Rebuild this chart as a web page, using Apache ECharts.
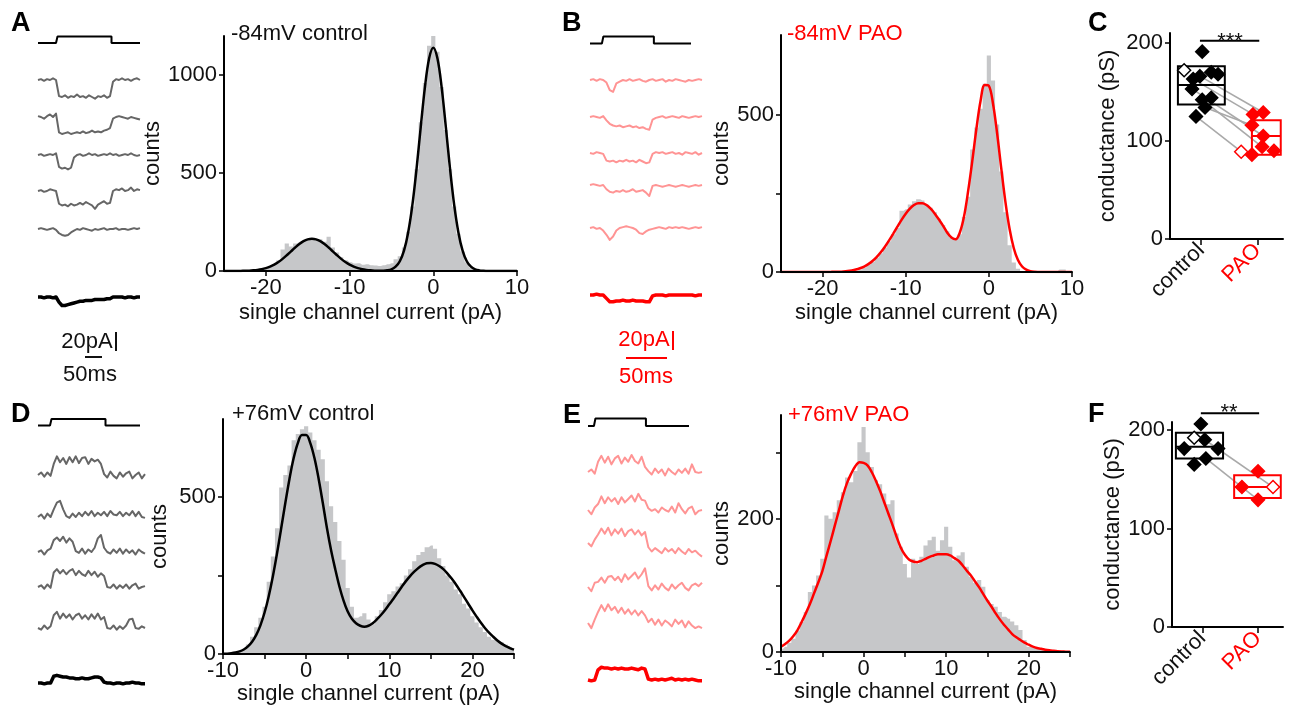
<!DOCTYPE html>
<html><head><meta charset="utf-8">
<script src="https://cdn.jsdelivr.net/npm/echarts@6/dist/echarts.min.js"></script>
<style>html,body{margin:0;padding:0;background:#fff}#c{width:1291px;height:708px}</style>
</head><body><div id="c"></div>
<script>
// ---------------- DATA ----------------
// Panel A: -84 mV control, single-channel sweeps (pA, one sample per ~3 ms)
const cmdA   = [0,0,0,0,0,0,0,1,1,1,1,1,1,1,1,1,1,1,1,1,1,1,1,1,1,0,0,0,0,0,0,0,0,0,0];
const traceA1 = [0,1,-1,1,0,2,0,-19,-20,-18,-21,-19,-20,-17,-20,-19,-21,-18,-20,-22,-19,-20,-18,-21,-19,-2,1,0,2,0,1,-1,1,2,0];
const traceA2 = [1,0,-2,1,3,0,4,-18,-20,-19,-18,-20,-19,-18,-19,-17,-19,-18,-16,-18,-17,-18,-16,-15,-13,-2,0,1,0,-1,-2,0,-1,-2,-3];
const traceA3 = [0,1,-1,0,1,0,2,-14,-16,-15,-17,-15,-3,0,1,-1,0,2,0,1,-1,0,1,0,2,0,1,-1,0,1,0,2,0,-1,0];
const traceA4 = [0,1,-1,0,2,1,0,-15,-17,-16,-18,-15,-17,-16,-14,-16,-13,-15,-17,-21,-16,-14,-12,-15,-14,0,2,1,3,0,1,4,0,2,1];
const traceA5 = [0,1,0,-1,0,1,-1,-5,-7,-8,-7,-4,-2,0,-1,1,0,-1,-2,0,-1,0,1,-1,0,0,1,-1,0,0,-1,0,1,0,1];
const avgA    = [0,0,-1,0,0,-1,0,-6,-10,-10,-9,-8,-7,-6,-5,-5,-4,-4,-4,-3,-3,-3,-3,-2,-2,0,0,0,0,-1,0,0,-1,0,0];

// Panel B: -84 mV PAO
const cmdB   = [0,0,0,0,0,1,1,1,1,1,1,1,1,1,1,1,1,1,1,1,1,1,0,0,0,0,0,0,0,0,0,0,0,0,0];
const traceB1 = [0,1,-1,1,0,-3,-12,-14,-4,-2,0,-1,1,-1,0,1,-1,-2,0,1,-1,0,1,-2,0,-1,1,0,-1,-2,0,-1,0,1,0];
const traceB2 = [0,1,0,-1,1,-4,-8,-10,-11,-10,-12,-11,-10,-12,-11,-13,-12,-14,-15,-3,-1,0,1,-1,0,1,0,-1,1,0,-1,0,1,0,1];
const traceB3 = [0,-1,1,0,-1,-9,-10,-9,-11,-9,-10,-8,-10,-9,-11,-8,-10,-12,-11,-1,1,0,1,-1,0,1,-1,0,-2,1,0,-1,1,-2,0];
const traceB4 = [0,1,0,-1,0,-5,-8,-9,-7,-8,-6,-8,-7,-5,-8,-7,-6,-9,-13,-1,0,-1,-2,-1,0,-1,-2,-1,0,-1,-2,-1,0,-1,0];
const traceB5 = [0,1,-1,0,-3,-8,-14,-10,-3,0,1,2,1,0,-2,-6,-7,-4,-2,-1,0,1,0,-1,1,0,1,0,1,0,-1,0,1,0,1];
const avgB    = [0,0,1,0,0,-4,-8,-8,-7,-7,-6,-7,-7,-6,-7,-7,-7,-8,-8,-1,0,0,0,-1,0,0,0,0,0,0,0,0,-1,0,0];

// Panel D: +76 mV control
const cmdD   = [0,0,0,0,0,1,1,1,1,1,1,1,1,1,1,1,1,1,1,1,1,1,1,0,0,0,0,0,0,0,0,0,0,0,0];
const traceD1 = [0,3,-2,3,-1,13,22,15,20,13,21,15,22,14,20,21,13,19,16,18,13,1,-3,4,-1,-4,3,-2,2,4,-4,0,3,-4,1];
const traceD2 = [0,3,-2,4,0,9,17,19,9,1,-1,4,0,5,1,6,2,7,1,5,2,6,1,7,3,2,6,1,5,2,7,1,6,0,-1];
const traceD3 = [0,2,-3,2,4,14,17,13,18,11,16,12,1,-1,4,-2,3,0,5,16,20,5,0,-2,3,-1,4,-2,3,-1,2,-3,3,0,-2];
const traceD4 = [0,2,-2,3,-1,17,21,16,20,15,19,21,14,19,15,13,19,14,18,12,16,13,0,-1,3,-2,2,-1,3,-2,2,4,-2,0,1];
const traceD5 = [0,-2,3,-1,2,15,19,11,17,12,16,10,15,17,11,15,10,16,11,17,10,13,0,-1,3,-2,2,-1,3,10,11,0,-1,2,0];
const avgD    = [0,0,-1,0,0,8,9,8,7,7,6,6,5,5,6,5,5,6,7,7,6,1,0,0,-1,0,0,-1,0,0,1,0,0,-1,-1];

// Panel E: +76 mV PAO
const cmdE   = [0,0,0,1,1,1,1,1,1,1,1,1,1,1,1,1,1,1,1,1,0,0,0,0,0,0,0,0,0,0,0,0,0,0,0];
const traceE1 = [0,3,-2,12,19,11,18,9,16,19,10,17,12,20,13,10,18,6,1,-3,4,-1,3,-4,4,0,-3,3,-1,4,-2,9,0,-1,0];
const traceE2 = [0,-5,3,7,16,8,15,10,14,7,15,9,13,17,10,19,12,11,2,-1,1,-3,3,0,-2,4,-3,8,1,-4,2,4,-5,-1,0];
const traceE3 = [0,-4,4,10,17,11,18,9,16,11,17,8,14,16,10,15,9,13,-5,-10,-6,-9,-12,-6,-10,-7,-12,-6,-10,-13,-7,-11,-9,-13,-16];
const traceE4 = [0,-5,5,6,11,5,12,13,8,12,6,15,9,13,17,10,15,22,1,-4,2,-3,4,-1,-4,3,-2,2,5,-1,-4,2,4,1,5];
const traceE5 = [0,-6,4,13,21,14,22,15,19,12,18,11,16,10,15,9,14,9,1,5,-2,4,-3,3,0,-4,4,-1,3,-5,2,-3,-6,-4,-6];
const avgE    = [0,-1,0,12,15,14,14,13,14,13,14,13,13,14,13,12,14,13,1,0,1,0,1,0,1,2,0,1,0,1,0,1,0,-1,-1];

// Histograms: 0.5 pA bins
const binWidth = 0.5;
const binStartA = -25, binStartB = -25, binStartD = -10, binStartE = -10;
const histA = [0,0,0,0,1,1,2,4,6,9, 14,22,35,55,110,140,125,140,150,158, 165,168,160,162,150,175,120,95,70,55,
  45,38,40,32,35,30,28,25,30,35, 40,60,75,120,200,330,520,760,960,1150, 1210,1120,940,720,520,330,190,100,45,18,
  6,2,1,0,0,0,0,0,0,0, 0];
const fitA = [0,0.05,0.1,0.25,0.5,1,1.8,3.3,5.6,9.2, 14.7,22.3,32.7,45.9,61.9,80.4,100.2,119.8,137.8,152.3,
  161.7,165,161.7,152.3,137.8,119.8,100.2,80.4,61.9,45.9, 32.7,22.3,14.7,9.2,5.6,3.3,1.8,1,1.5,3.4,
  8.7,21.9,50,104,197,336,522,735,938,1085, 1140,1085,938,735,522,336,197,104,50,21.9, 8.6,3.1,1,0,0,0,0,0,0,0, 0];
const histB = [0,0,0,0,0,0,0,0,0,0, 0,0,0,0,0,0,0,2,4,8, 14,22,32,45,60,78,98,120,140,195,
  200,215,225,232,228,215,205,190,170,150, 130,110,108,120,175,240,390,460,520,600,
  690,610,470,320,190,85,30,10,3,1, 0,0,0,0,0,0,2,8,8,0, 0];
const fitB = [0,0,0,0,0,0,0,0,0,0, 0,0.2,0.36,0.6,1.1,1.9,3.1,5,7.8,11.9, 17.5,25.1,35,47.6,62.8,80.7,100.8,122.3,144.5,166.1,
  185.6,201.7,213.2,219.2,219.2,213.2,201.7,185.9,167,147.2, 125,110,104,125,175,256.3,352.3,456,544.9,595.6,
  592.8,536.1,440.4,328.3,221.9,136.2,75.8,38.1,17.5,7.3, 2.7,0.9,0.3,0,0,0,0,0,0,0, 0];
const histD = [1,2,3,5,8,15,30,55,85,115, 150,230,310,400,530,570,600,680,700,715, 725,705,680,650,620,550,470,420,360,300,
  210,150,115,120,130,110,95,120,140,165, 190,200,215,225,250,270,295,315,325,340, 345,335,305,280,250,230,205,190,160,145,
  120,100,85,70,55,45,40,38,30,22, 15];
const fitD = [0.6,1.2,2.4,4.6,8.2,14.3,24.1,38.9,60.7,91.2, 132,184,247.4,320.5,400.1,481.3,558.1,623.6,671.4,696.8,
  696.8,671.4,623.6,558.1,481.3,401,330,270,215,170, 135,112,98,90,87,90,98,110,124,140,
  158,176,195,214,232,248,262,274,283,289, 290,287,280,270,256,240,222,202,181,160, 139,119,100,83,68,55,43,33,25,19, 14];
const histE = [5,8,14,20,32,45,60,90,100,115, 140,205,200,210,228,240,262,255,272,315, 338,300,278,258,252,238,222,228,178,158,
  132,112,140,132,143,160,168,173,152,168, 188,158,138,145,150,128,113,104,108,98, 78,72,68,60,53,50,46,40,33,18,
  8,6,6,4,3,2,1,1,0,0, 0];
const fitE = [8,12,17,24,33,45,58,72,88,104, 121,144,166,189,212,235,254,268,279,285, 284,280,270,257,242,225,208,191,173,157,
  146,139,136,135,137,140,143,145,147,147, 147,145,141,137,130,122,115,106,97,87, 77,68,58,49,41,34,27,22,18,14,
  11,8,6,5,3.5,2.5,1.8,1.2,0.8,0.5, 0.3];

// Conductance (pS): x = group position (1 control, 2 PAO, with jitter)
const condC_ctrl     = [[1.02,191],[0.98,166],[1.18,170],[1.30,168],[0.86,163],[0.84,153],[1.02,142],[1.18,144],[1.07,134],[0.91,125]];
const condC_ctrlOpen = [[0.70,172]];
const condC_pao      = [[1.92,127],[2.10,129],[1.90,116],[2.10,105],[2.08,94],[1.90,86],[2.29,90]];
const condC_paoOpen  = [[1.71,89]];
const pairsC = [[[0.98,166],[2.10,129]],[[0.86,163],[1.92,127]],[[0.84,153],[2.10,105]],[[1.02,142],[2.08,94]],[[1.07,134],[1.90,116]],[[0.91,125],[1.71,89]]];
const boxC = {ctrl:[137,157,176], pao:[86,105,121]};   // [q1, median, q3]
const sigC = {text:'***', level:202};

const condF_ctrl     = [[0.97,206],[1.04,190],[0.67,181],[1.28,181],[1.06,171],[0.85,165]];
const condF_ctrlOpen = [[0.85,192]];
const condF_pao      = [[2.0,158],[1.71,142],[2.0,129]];
const condF_paoOpen  = [[2.27,142]];
const pairsF = [[[1.04,190],[2.27,142]],[[1.06,171],[2.0,129]]];
const boxF = {ctrl:[171,183,197], pao:[131,142,154]};
const sigF = {text:'**', level:217};

const groupLabels = ['control','PAO'];

// ---------------- LAYOUT / STYLE ----------------
const RED = '#ff0000', PINK = '#ff9494', GRAY_TR = '#666666', HIST = '#c6c7c9';
const FONT = '"Liberation Sans", Arial, Helvetica, sans-serif';
const PX_PER_PA = 0.85;

const grids = [], xAxes = [], yAxes = [], series = [];
function addGrid(g, x, y) {
  grids.push(Object.assign({outerBoundsMode:'none', containLabel:false}, g));
  const i = grids.length - 1;
  xAxes.push(Object.assign({gridIndex:i}, x));
  yAxes.push(Object.assign({gridIndex:i}, y));
  return i;
}
const hidden = {show:false, splitLine:{show:false}};
const plain = v => String(v);

function addTrace(left, width, baseline, values, color, lw) {
  const i = addGrid({left, top: baseline - 25*PX_PER_PA, width, height: 50*PX_PER_PA},
    Object.assign({type:'value', min:0, max:values.length-1}, hidden),
    Object.assign({type:'value', min:-25, max:25}, hidden));
  series.push({type:'line', xAxisIndex:i, yAxisIndex:i, data: values.map((v,k)=>[k,v]),
    symbol:'none', lineStyle:{color, width:lw, join:'round'}, silent:true});
}
function addCmd(left, width, top, height, values) {
  const i = addGrid({left, top, width, height},
    Object.assign({type:'value', min:0, max:values.length-1}, hidden),
    Object.assign({type:'value', min:0, max:1}, hidden));
  series.push({type:'line', xAxisIndex:i, yAxisIndex:i, step:'middle', data: values.map((v,k)=>[k,v]),
    symbol:'none', lineStyle:{color:'#000', width:2}, silent:true, clip:false});
}
function axisBase() {
  return {axisLine:{show:true, onZero:false, lineStyle:{color:'#000', width:2}},
    splitLine:{show:false}, z:10,
    nameTextStyle:{fontSize:22, color:'#111', fontFamily:FONT}};
}
function addHist(g, xr, xticks, xlabels, ymax, yticks, ylabels, hist, fit, start, fitColor, xGap, yGap) {
  const x = Object.assign(axisBase(), {type:'value', min:xr[0], max:xr[1],
    axisTick:{show:true, customValues:xticks, length:5, lineStyle:{color:'#000', width:1.5}},
    axisLabel:{customValues:xlabels, formatter:plain, fontSize:22, color:'#111', margin:6, fontFamily:FONT},
    name:'single channel current (pA)', nameLocation:'middle', nameGap:xGap});
  const y = Object.assign(axisBase(), {type:'value', min:0, max:ymax,
    axisTick:{show:true, customValues:yticks, length:5, lineStyle:{color:'#000', width:1.5}},
    axisLabel:{customValues:ylabels, formatter:plain, fontSize:22, color:'#111', margin:7, fontFamily:FONT},
    name:'counts', nameLocation:'middle', nameGap:yGap});
  const i = addGrid(g, x, y);
  series.push({type:'line', xAxisIndex:i, yAxisIndex:i, step:'middle', symbol:'none', z:1,
    data: hist.map((v,k)=>[start + k*binWidth, v]),
    lineStyle:{width:0, color:HIST}, areaStyle:{color:HIST, opacity:1}, silent:true});
  series.push({type:'line', xAxisIndex:i, yAxisIndex:i, smooth:0.35, symbol:'none', z:3,
    data: fit.map((v,k)=>[start + k*binWidth, v]),
    lineStyle:{width:2.5, color:fitColor}, silent:true});
}
function addCond(g, ymax, yGap, ctrl, ctrlOpen, pao, paoOpen, pairs, box, boxX, sig, sigX) {
  const x = Object.assign(axisBase(), {type:'value', min:0.45, max:2.45,
    axisTick:{show:true, customValues:[1,2], length:6, lineStyle:{color:'#000', width:1.5}},
    axisLabel:{customValues:[1,2], rotate:45, margin:8, fontFamily:FONT,
      formatter: v => v < 1.5 ? '{c|' + groupLabels[0] + '}' : '{p|' + groupLabels[1] + '}',
      rich:{c:{color:'#111', fontSize:22, fontFamily:FONT}, p:{color:RED, fontSize:22, fontFamily:FONT}}}});
  const y = Object.assign(axisBase(), {type:'value', min:0, max:ymax,
    axisTick:{show:true, customValues:[0,100,200], length:5, lineStyle:{color:'#000', width:1.5}},
    axisLabel:{customValues:[0,100,200], formatter:plain, fontSize:22, color:'#111', margin:7, fontFamily:FONT},
    name:'conductance (pS)', nameLocation:'middle', nameGap:yGap});
  const i = addGrid(g, x, y);
  pairs.forEach(p => series.push({type:'line', xAxisIndex:i, yAxisIndex:i, data:p, symbol:'none', z:1,
    lineStyle:{color:'#a9a9a9', width:1.6}, silent:true}));
  const boxItem = (ext, s) => [ext[0], ext[1], s[0], s[1], s[2]];
  [[box.ctrl, boxX[0], '#000'], [box.pao, boxX[1], RED]].forEach(([s, ext, col]) => {
    series.push({type:'custom', xAxisIndex:i, yAxisIndex:i, z:2, silent:true,
      data:[boxItem(ext, s)], encode:{x:[0,1], y:[2,3,4]},
      renderItem:(params, api) => {
        const a = api.coord([api.value(0), api.value(4)]), b = api.coord([api.value(1), api.value(2)]);
        const m = api.coord([api.value(0), api.value(3)]), n = api.coord([api.value(1), api.value(3)]);
        return {type:'group', children:[
          {type:'rect', shape:{x:a[0], y:a[1], width:b[0]-a[0], height:b[1]-a[1]}, style:{fill:'none', stroke:col, lineWidth:2}},
          {type:'line', shape:{x1:m[0], y1:m[1], x2:n[0], y2:n[1]}, style:{stroke:col, lineWidth:2}}]};
      }});
  });
  const pts = (data, fill, stroke) => ({type:'scatter', xAxisIndex:i, yAxisIndex:i, data, symbol:'diamond',
    symbolSize:13, z:4, itemStyle:{color:fill, borderColor:stroke, borderWidth:1.5, opacity:1}, silent:true});
  series.push(pts(ctrl, '#000', '#000'), pts(pao, RED, RED), pts(ctrlOpen, '#fff', '#000'), pts(paoOpen, '#fff', RED));
  series.push({type:'line', xAxisIndex:i, yAxisIndex:i, data:[[sigX[0], sig.level],[sigX[1], sig.level]],
    symbol:'none', clip:false, z:4, lineStyle:{color:'#000', width:2}, silent:true});
}

// ---- traces ----
const trA = [traceA1, traceA2, traceA3, traceA4, traceA5], baseA = [80,117,155,191,229];
trA.forEach((t,k) => addTrace(38, 102, baseA[k], t, GRAY_TR, 2));
addTrace(38, 102, 297, avgA, '#000', 3.5);
addCmd(38, 102, 36.5, 6.5, cmdA);

const trB = [traceB1, traceB2, traceB3, traceB4, traceB5], baseB = [80,117,153,185,228];
trB.forEach((t,k) => addTrace(590, 112, baseB[k], t, PINK, 2));
addTrace(590, 112, 295, avgB, RED, 3.5);
addCmd(590, 101, 36.5, 7, cmdB);

const trD = [traceD1, traceD2, traceD3, traceD4, traceD5], baseD = [475,517,552,587,628];
trD.forEach((t,k) => addTrace(38, 107, baseD[k], t, GRAY_TR, 2));
addTrace(38, 107, 683, avgD, '#000', 3.5);
addCmd(38, 102, 419, 6.5, cmdD);

const trE = [traceE1, traceE2, traceE3, traceE4, traceE5], baseE = [472,510,543,587,623];
trE.forEach((t,k) => addTrace(588, 114, baseE[k], t, PINK, 2));
addTrace(588, 114, 680, avgE, RED, 3.5);
addCmd(588, 101, 418.5, 7.5, cmdE);

// ---- histograms ----
addHist({left:224, top:36, width:293, height:235}, [-25,10], [-20,-10,0,10], [-20,-10,0,10],
  1200, [0,500,1000], [0,500,1000], histA, fitA, binStartA, '#000', 31, 52);
addHist({left:781, top:35, width:291, height:237}, [-25,10], [-20,-10,0,10], [-20,-10,0,10],
  755, [0,250,500], [0,500], histB, fitB, binStartB, RED, 30, 43);
addHist({left:223, top:419, width:291, height:235}, [-10,25], [-10,-5,0,5,10,15,20,25], [-10,0,10,20],
  748, [0,250,500], [0,500], histD, fitD, binStartD, '#000', 28, 52);
addHist({left:781, top:415, width:289, height:237}, [-10,25], [-10,-5,0,5,10,15,20,25], [-10,0,10,20],
  356, [0,100,200,300], [0,200], histE, fitE, binStartE, RED, 24, 42);

// ---- conductance ----
addCond({left:1170, top:33, width:113, height:206}, 210, 51, condC_ctrl, condC_ctrlOpen, condC_pao, condC_paoOpen,
  pairsC, boxC, [[0.59,1.42],[1.90,2.41]], sigC, [0.98,2.03]);
addCond({left:1172, top:422, width:111, height:205}, 208, 48, condF_ctrl, condF_ctrlOpen, condF_pao, condF_paoOpen,
  pairsF, boxF, [[0.52,1.37],[1.57,2.41]], sigF, [0.97,2.02]);

// ---- texts ----
function txt(t, x, y, size, color, opts) {
  return Object.assign({type:'text', silent:true, z:100, style:{text:t, x, y, fill:color||'#111',
    font:(opts&&opts.bold?'bold ':'') + size + 'px ' + FONT,
    textAlign:(opts&&opts.align)||'left', textVerticalAlign:'middle'}});
}
function seg(x1,y1,x2,y2,color) {
  return {type:'line', silent:true, z:100, shape:{x1,y1,x2,y2}, style:{stroke:color, lineWidth:2}};
}
const graphic = [
  txt('A', 11, 24, 27, '#000', {bold:true}), txt('B', 562, 24, 27, '#000', {bold:true}), txt('C', 1088, 24, 27, '#000', {bold:true}),
  txt('D', 11, 415, 27, '#000', {bold:true}), txt('E', 563, 416, 27, '#000', {bold:true}), txt('F', 1088, 415, 27, '#000', {bold:true}),
  txt('-84mV control', 231, 34, 22), txt('-84mV PAO', 787, 34, 22, RED),
  txt('+76mV control', 232, 414, 22), txt('+76mV PAO', 788, 415, 22, RED),
  txt('20pA', 87, 342, 22, '#111', {align:'center'}), seg(116,332,116,351,'#111'), seg(85,357,102,357,'#111'),
  txt('50ms', 90, 375, 22, '#111', {align:'center'}),
  txt('20pA', 644, 340, 22, RED, {align:'center'}), seg(673,331,673,350,RED), seg(626,358,667,358,RED),
  txt('50ms', 646, 377, 22, RED, {align:'center'}),
  txt(sigC.text, 1230, 42, 22, '#111', {align:'center'}),
  txt(sigF.text, 1229, 413, 22, '#111', {align:'center'})
];

const chart = echarts.init(document.getElementById('c'), null, {renderer:'canvas'});
chart.setOption({
  animation:false, backgroundColor:'#fff',
  textStyle:{fontFamily:FONT},
  grid:grids, xAxis:xAxes, yAxis:yAxes, series, graphic
});
</script></body></html>
